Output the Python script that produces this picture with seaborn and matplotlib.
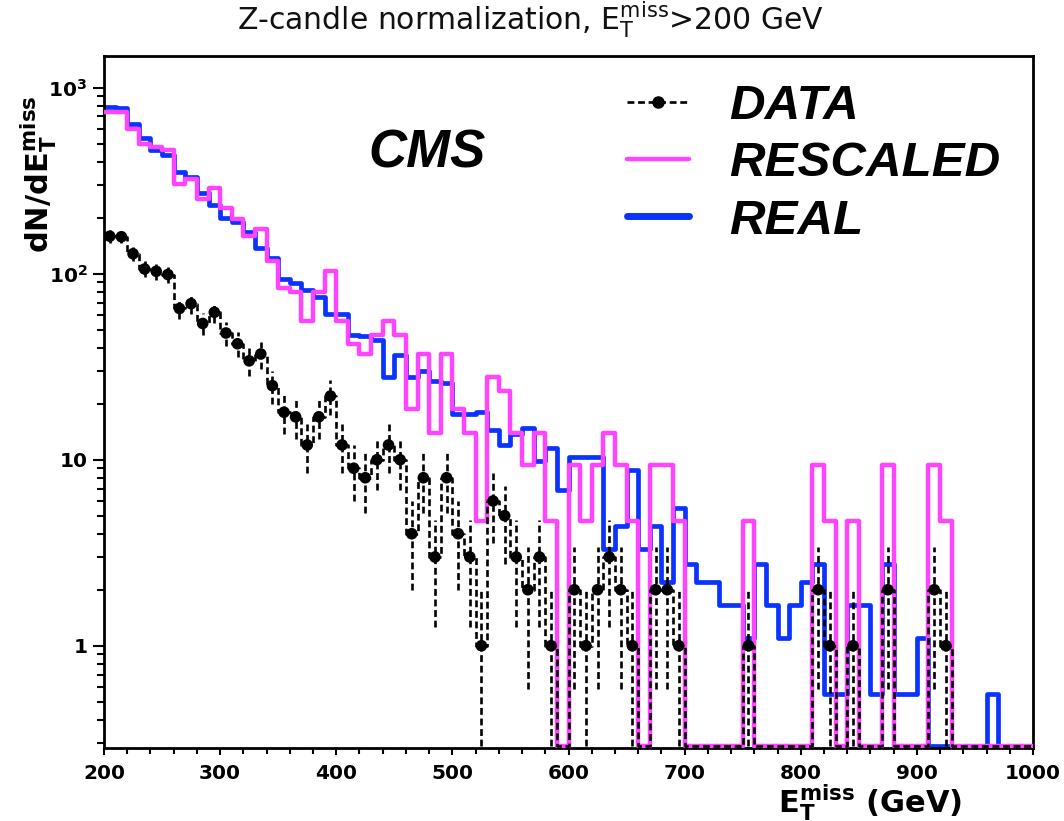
import numpy as np
import pandas as pd
import matplotlib
matplotlib.use("Agg")
import matplotlib.pyplot as plt
import seaborn as sns
from matplotlib.lines import Line2D
from matplotlib.ticker import FixedLocator, FixedFormatter, MultipleLocator, LogLocator, NullFormatter

sns.set_theme(style="white")
plt.rcParams["font.family"] = ["DejaVu Sans"]
plt.rcParams["mathtext.fontset"] = "dejavusans"
plt.rcParams["text.color"] = "black"
plt.rcParams["axes.labelcolor"] = "black"
plt.rcParams["xtick.color"] = "black"
plt.rcParams["ytick.color"] = "black"

# ---- histogram content: 10 GeV bins from 200 to 1000 GeV ----
met_edges = list(range(200, 1001, 10))

data_counts = np.array([
    159, 158, 128, 106, 103, 99, 65, 69, 54, 62,
    48, 42, 34, 37, 25, 18, 17, 12, 17, 22,
    12, 9, 8, 10, 12, 10, 4, 8, 3, 8,
    4, 3, 1, 6, 5, 3, 2, 3, 1, 0,
    2, 1, 2, 3, 2, 1, 0, 2, 2, 1,
    0, 0, 0, 0, 0, 1, 0, 0, 0, 0,
    0, 2, 1, 0, 1, 0, 0, 2, 0, 0,
    0, 2, 1, 0, 0, 0, 0, 0, 0, 0,
], dtype=float)

rescaled = np.array([
    744, 739, 599, 496, 482, 463, 304, 323, 253, 290,
    225, 197, 159, 173, 117, 84, 80, 56, 80, 103,
    56, 42, 37, 47, 56, 47, 18.7, 37, 14, 37,
    18.7, 14, 4.7, 28, 23.4, 14, 9.4, 14, 4.7, 0,
    9.4, 4.7, 9.4, 14, 9.4, 4.7, 0, 9.4, 9.4, 4.7,
    0, 0, 0, 0, 0, 4.7, 0, 0, 0, 0,
    0, 9.4, 4.7, 0, 4.7, 0, 0, 9.4, 0, 0,
    0, 9.4, 4.7, 0, 0, 0, 0, 0, 0, 0,
])

real = np.array([
    785, 775, 636, 535, 463, 435, 354, 333, 270, 234,
    199, 190, 168, 137, 121, 94, 89, 82, 75, 61,
    61, 47, 46, 44, 28, 36.6, 27.7, 30, 26.4, 25.8,
    17.7, 17.6, 18, 14.4, 12, 13.8, 14.8, 9.9, 11.5, 6.9,
    10.4, 10.4, 10.4, 3.3, 4.4, 8.8, 3.3, 4.4, 2.2, 5.5,
    2.75, 2.2, 2.2, 1.65, 1.65, 1.1, 2.75, 1.65, 1.1, 1.65,
    2.2, 2.75, 0.55, 0.55, 1.65, 1.65, 0.55, 2.75, 0.55, 0.55,
    1.1, 0, 0, 0, 0, 0, 0.55, 0, 0, 0,
])

x_ticks = [200, 300, 400, 500, 600, 700, 800, 900, 1000]
y_ticks = [1, 10, 100, 1000]
y_ticklabels = ["1", "10", r"$\mathbf{10^{2}}$", r"$\mathbf{10^{3}}$"]
legend_labels = ["DATA", "RESCALED", "REAL"]

BLUE = "#0a33ff"
PINK = "#ff44ff"
Y_MIN, Y_MAX = 0.282, 1480.0
FLOOR = 0.29  # empty bins are drawn on the bottom of the frame

centers = np.array(met_edges[:-1]) + 5
df = pd.DataFrame({
    "met": centers,
    "real": np.where(real > 0, real, FLOOR),
    "rescaled": np.where(rescaled > 0, rescaled, FLOOR),
    "data": np.where(data_counts > 0, data_counts, FLOOR),
})

fig = plt.figure(figsize=(10.64, 8.21), dpi=100)
ax = fig.add_axes([104 / 1064, 1 - 748 / 821, (1033 - 104) / 1064, (748 - 56) / 821])

dash = (0, (2.6, 1.4))

sns.histplot(data=df, x="met", weights="real", bins=met_edges, element="step",
             fill=False, color=BLUE, linewidth=3.4, ax=ax, zorder=2)
sns.histplot(data=df, x="met", weights="rescaled", bins=met_edges, element="step",
             fill=False, color=PINK, linewidth=3.2, ax=ax, zorder=3)
sns.histplot(data=df, x="met", weights="data", bins=met_edges, element="step",
             fill=False, color="black", linewidth=1.9, linestyle=dash, ax=ax, zorder=4)

# Poisson error bars and markers for the filled data bins
nz = data_counts > 0
err = np.sqrt(data_counts[nz])
lo = np.maximum(data_counts[nz] - err, FLOOR)
hi = data_counts[nz] + err
ax.vlines(centers[nz], lo, hi, colors="black", linewidth=1.9, linestyles=dash, zorder=5)
sns.scatterplot(x=centers[nz], y=data_counts[nz], color="black", marker="o", s=70,
                edgecolor="none", ax=ax, zorder=6)

ax.set_yscale("log")
ax.set_xlim(200, 1000)
ax.set_ylim(Y_MIN, Y_MAX)

# axis ticks: outside, bottom/left only
ax.xaxis.set_major_locator(FixedLocator(x_ticks))
ax.xaxis.set_minor_locator(MultipleLocator(20))
ax.yaxis.set_major_locator(FixedLocator(y_ticks))
ax.yaxis.set_major_formatter(FixedFormatter(y_ticklabels))
ax.yaxis.set_minor_locator(LogLocator(base=10, subs=np.arange(2, 10)))
ax.yaxis.set_minor_formatter(NullFormatter())
ax.tick_params(which="both", direction="out", top=False, right=False, bottom=True, left=True,
               colors="black", labelcolor="black", width=1.5)
ax.tick_params(axis="x", which="major", length=5.2, pad=6.5, labelsize=14.5)
ax.tick_params(axis="x", which="minor", length=4.0)
ax.tick_params(axis="y", which="major", length=8, pad=4, labelsize=14.5)
ax.tick_params(axis="y", which="minor", length=5)
for lab in ax.get_xticklabels() + ax.get_yticklabels():
    lab.set_fontweight("bold")

for sp in ax.spines.values():
    sp.set_visible(True)
    sp.set_color("black")
    sp.set_linewidth(2.0)

ax.set_xlabel(r"$\mathbf{E_{T}^{miss}}$ (GeV)", fontsize=22, fontweight="bold")
ax.xaxis.set_label_coords((962 - 104) / 929, -(812 - 748) / 692)
ax.xaxis.label.set_horizontalalignment("right")
ax.xaxis.label.set_verticalalignment("baseline")
ax.set_ylabel(r"dN/d$\mathbf{E_{T}^{miss}}$", fontsize=22, fontweight="bold")
ax.yaxis.set_label_coords(-(104 - 49) / 929, (748 - 96) / 692)
ax.yaxis.label.set_horizontalalignment("right")
ax.yaxis.label.set_verticalalignment("baseline")
ax.yaxis.label.set_rotation_mode("anchor")

fig.text(531 / 1064, 1 - 30 / 821, r"Z-candle normalization, E$_{\rm T}^{\rm miss}$>200 GeV",
         ha="center", va="baseline", fontsize=21.5, color="#111111")

fig.text(368 / 1064, 1 - 167 / 821, "CMS", ha="left", va="baseline", color="black",
         family="Liberation Sans", fontsize=38, fontweight="bold", fontstyle="italic")

handles = [
    Line2D([], [], color="black", linewidth=1.9, linestyle=(0, (2.6, 1.4)), marker="o", markersize=8),
    Line2D([], [], color=PINK, linewidth=3.2),
    Line2D([], [], color=BLUE, linewidth=5.0),
]
leg = ax.legend(handles, legend_labels, loc="upper left", bbox_to_anchor=(627 / 1064, 1 - 84 / 821),
                bbox_transform=fig.transFigure, frameon=False, borderpad=0, borderaxespad=0,
                handlelength=1.26, handletextpad=0.81, labelspacing=0.25,
                prop={"family": "Liberation Sans", "weight": "bold", "style": "italic", "size": 35.5})
for t in leg.get_texts():
    t.set_color("black")

fig.savefig("out.png", dpi=100, facecolor="white")
